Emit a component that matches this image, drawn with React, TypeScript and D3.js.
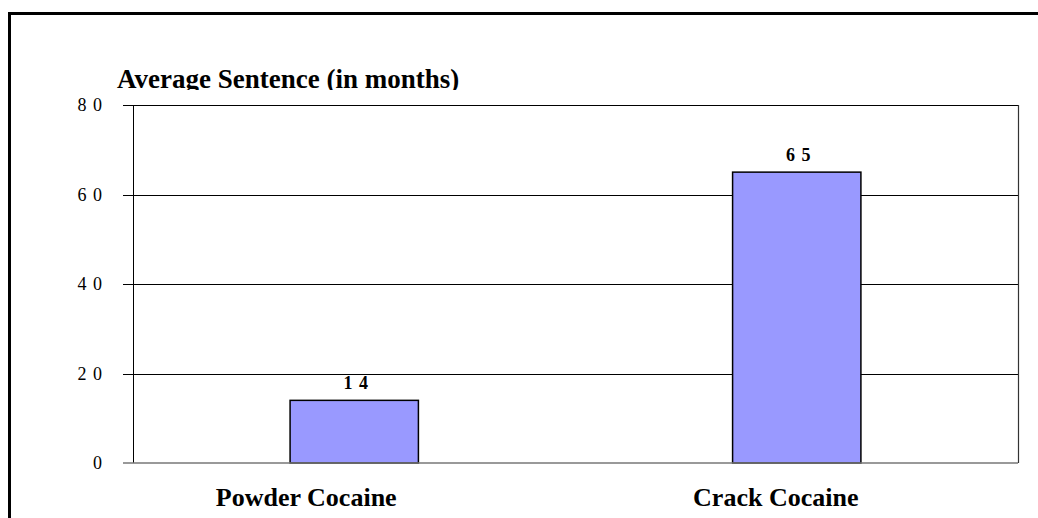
import { useEffect, useRef } from "react";
import * as d3 from "d3";

const categories = ["Powder Cocaine", "Crack Cocaine"];
const sentences = [14, 65];
const yTicks = [0, 20, 40, 60, 80];
const title = "Average Sentence (in months)";

const App = () => {
  const svgRef = useRef<SVGSVGElement | null>(null);

  useEffect(() => {
    const width = 1038;
    const height = 518;
    const plot = { left: 133, right: 1018, top: 105, bottom: 463 };
    const font = "'Liberation Serif', 'Times New Roman', serif";

    const svg = d3.select(svgRef.current);
    svg.selectAll("*").remove();

    svg.append("rect").attr("width", width).attr("height", height).attr("fill", "white");

    // thick outer frame, runs off the right and bottom edge
    svg
      .append("rect")
      .attr("x", 9.5)
      .attr("y", 13.5)
      .attr("width", 1200)
      .attr("height", 700)
      .attr("fill", "none")
      .attr("stroke", "black")
      .attr("stroke-width", 3);

    const x = d3
      .scaleBand<string>()
      .domain(categories)
      .range([plot.left, plot.right])
      .paddingInner(0.71)
      .paddingOuter(0.355);

    const y = d3.scaleLinear().domain([0, 80]).range([plot.bottom, plot.top]);

    // gridlines (0 line is drawn grey below)
    svg
      .append("g")
      .selectAll("line")
      .data(yTicks.filter((d) => d > 0))
      .join("line")
      .attr("x1", plot.left - 10)
      .attr("x2", plot.right)
      .attr("y1", (d) => Math.round(y(d)) + 0.5)
      .attr("y2", (d) => Math.round(y(d)) + 0.5)
      .attr("stroke", "black")
      .attr("stroke-width", 1);

    // right border of plot
    svg
      .append("line")
      .attr("x1", plot.right + 0.5)
      .attr("x2", plot.right + 0.5)
      .attr("y1", plot.top)
      .attr("y2", plot.bottom)
      .attr("stroke", "#333")
      .attr("stroke-width", 1.2);

    // y axis line
    svg
      .append("line")
      .attr("x1", plot.left + 0.5)
      .attr("x2", plot.left + 0.5)
      .attr("y1", plot.top)
      .attr("y2", plot.bottom)
      .attr("stroke", "black")
      .attr("stroke-width", 1);

    // tick labels
    svg
      .append("g")
      .selectAll("text")
      .data(yTicks)
      .join("text")
      .attr("x", 103)
      .attr("y", (d) => y(d) + 6)
      .attr("text-anchor", "end")
      .attr("font-family", font)
      .attr("font-size", 18)
      .style("letter-spacing", "1px")
      .text((d) => String(d).split("").join(" "));

    // bars
    svg
      .append("g")
      .selectAll("rect")
      .data(sentences)
      .join("rect")
      .attr("x", (_, i) => x(categories[i])!)
      .attr("y", (d) => y(d))
      .attr("width", x.bandwidth())
      .attr("height", (d) => y(0) - y(d))
      .attr("fill", "#9999FF")
      .attr("stroke", "black")
      .attr("stroke-width", 1.5);

    // zero line (grey)
    svg
      .append("line")
      .attr("x1", plot.left - 10)
      .attr("x2", plot.right)
      .attr("y1", y(0))
      .attr("y2", y(0))
      .attr("stroke", "#777")
      .attr("stroke-width", 1.5);

    // value labels
    svg
      .append("g")
      .selectAll("text")
      .data(sentences)
      .join("text")
      .attr("x", (_, i) => x(categories[i])! + x.bandwidth() / 2 + 2)
      .attr("y", (d) => y(d) - 11)
      .attr("text-anchor", "middle")
      .attr("font-family", font)
      .attr("font-weight", "bold")
      .attr("font-size", 18)
      .style("letter-spacing", "1px")
      .text((d) => String(d).split("").join(" "));

    // category labels (sit a bit left of the bars in the original)
    const labelShift = [-48, -21];
    svg
      .append("g")
      .selectAll("text")
      .data(categories)
      .join("text")
      .attr("x", (d, i) => x(d)! + x.bandwidth() / 2 + labelShift[i])
      .attr("y", 506)
      .attr("text-anchor", "middle")
      .attr("font-family", font)
      .attr("font-weight", "bold")
      .attr("font-size", 26)
      .text((d) => d);

    // title, clipped just under its baseline like the source
    svg
      .append("clipPath")
      .attr("id", "titleClip")
      .append("rect")
      .attr("x", 0)
      .attr("y", 0)
      .attr("width", width)
      .attr("height", 90);

    svg
      .append("text")
      .attr("clip-path", "url(#titleClip)")
      .attr("x", 117)
      .attr("y", 88)
      .attr("font-family", font)
      .attr("font-weight", "bold")
      .attr("font-size", 27)
      .text(title);
  }, []);

  return (
    <svg
      ref={svgRef}
      width={1038}
      height={518}
      style={{ position: "absolute", left: 0, top: 0 }}
    />
  );
};

export default App;
